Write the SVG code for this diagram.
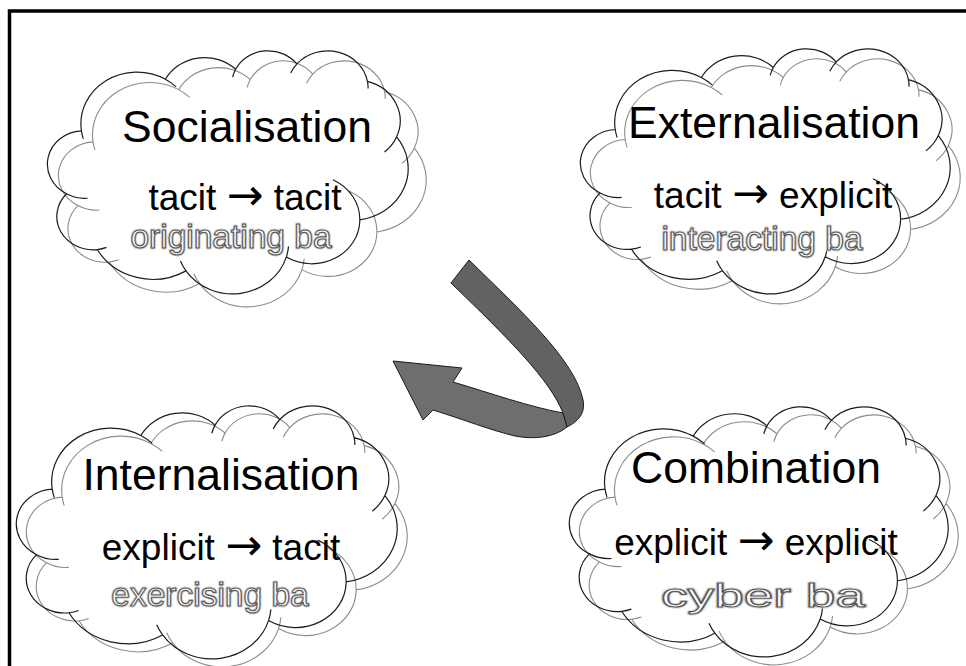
<svg xmlns="http://www.w3.org/2000/svg" xmlns:xlink="http://www.w3.org/1999/xlink" width="966" height="666" viewBox="0 0 966 666">
  <style>
    .front { stroke: #1c1c1c; stroke-width: 1.2; }
    .shadow { stroke: #8c8c8c; stroke-width: 1.1; }
    .title { font-family: "Liberation Sans", Arial, sans-serif; font-size: 44.5px; fill: #000; text-anchor: middle; }
    .mode { font-family: "Liberation Sans", Arial, sans-serif; font-size: 37px; fill: #000; text-anchor: middle; }
    .arrow { font-family: "DejaVu Sans", sans-serif; font-size: 44px; }
    .ba { font-family: "Liberation Sans", Arial, sans-serif; font-size: 33.5px; text-anchor: middle; }
    .ba-halo { fill: none; stroke: #d6d6d6; stroke-width: 3; stroke-linejoin: round; }
    .ba-face { fill: #fcfcfc; stroke: #5a5a5a; stroke-width: 1.2; stroke-linejoin: round; }
    .frame { fill: none; stroke: #000; stroke-width: 3.5; }
    .band { stroke: #1a1a1a; stroke-width: 1; stroke-linejoin: round; }
  </style>
  <defs>
    <!-- cloud outline on a 100 x 100 box, plus its inner bump arcs -->
    <path id="cloud" fill="none" vector-effect="non-scaling-stroke" d="M 9.028 33.264 A 15.632 21.273 0 0 1 32.421 12.044 A 12.345 16.822 0 0 1 51.986 7.949 A 10.104 13.762 0 0 1 69.063 5.743 A 11.243 15.266 0 0 1 88.704 12.905 A 12.345 16.836 0 0 1 96.808 35.785 A 15.683 21.343 0 0 1 86.588 69.910 A 13.391 18.211 0 0 1 66.104 85.211 A 15.630 21.331 0 0 1 38.153 90.889 A 17.870 24.405 0 0 1 13.444 82.118 A 10.093 13.699 0 0 1 4.894 59.160 A 10.058 13.762 0 0 1 9.028 33.264 Z
      M 10.758 61.005 A 10.058 13.762 0 0 1 4.894 59.160
      M 16.010 81.234 A 10.093 13.699 0 0 1 13.444 82.118
      M 38.153 90.889 A 15.630 21.331 0 0 1 36.606 86.861
      M 66.722 80.794 A 15.630 21.331 0 0 1 66.104 85.211
      M 79.062 53.393 A 13.391 18.211 0 0 1 86.588 69.910
      M 96.808 35.785 A 12.345 16.836 0 0 1 93.453 41.982
      M 88.704 12.905 A 11.243 15.266 0 0 1 88.881 15.831
      M 67.346 9.471 A 11.243 15.266 0 0 1 69.063 5.743
      M 51.155 11.166 A 10.104 13.762 0 0 1 51.986 7.949
      M 32.421 12.044 A 15.632 21.273 0 0 1 35.425 15.159
      M 9.552 36.546 A 15.632 21.273 0 0 1 9.028 33.264"/>
  </defs>

  <rect x="0" y="0" width="966" height="666" fill="#fff"/>
  <path class="frame" d="M 9.5 670 V 11 H 970"/>

  <g id="socialisation">
    <use href="#cloud" class="shadow" transform="translate(60 60) scale(3.66 2.46)"/>
    <use href="#cloud" class="front" transform="translate(49 50) scale(3.59 2.43)"/>
    <text class="title" x="247" y="142">Socialisation</text>
    <text class="mode" x="245" y="210">tacit <tspan class="arrow">→</tspan> tacit</text>
    <g class="ba">
      <text class="ba-halo" x="231" y="248">originating ba</text>
      <text class="ba-face" x="231" y="248">originating ba</text>
    </g>
  </g>

  <g id="externalisation">
    <use href="#cloud" class="shadow" transform="translate(592 58) scale(3.68 2.45)"/>
    <use href="#cloud" class="front" transform="translate(582 48) scale(3.68 2.45)"/>
    <text class="title" x="774" y="138">Externalisation</text>
    <text class="mode" x="773" y="208">tacit <tspan class="arrow">→</tspan> explicit</text>
    <g class="ba">
      <text class="ba-halo" x="762" y="250">interacting ba</text>
      <text class="ba-face" x="762" y="250">interacting ba</text>
    </g>
  </g>

  <g id="internalisation">
    <use href="#cloud" class="shadow" transform="translate(28 413) scale(3.79 2.53)"/>
    <use href="#cloud" class="front" transform="translate(18 405) scale(3.79 2.53)"/>
    <text class="title" x="221" y="490">Internalisation</text>
    <text class="mode" x="221" y="560">explicit <tspan class="arrow">→</tspan> tacit</text>
    <g class="ba">
      <text class="ba-halo" x="210" y="606">exercising ba</text>
      <text class="ba-face" x="210" y="606">exercising ba</text>
    </g>
  </g>

  <g id="combination">
    <use href="#cloud" class="shadow" transform="translate(581 414) scale(3.77 2.50)"/>
    <use href="#cloud" class="front" transform="translate(571 406) scale(3.77 2.50)"/>
    <text class="title" x="756" y="483">Combination</text>
    <text class="mode" x="756" y="555">explicit <tspan class="arrow">→</tspan> explicit</text>
    <g class="ba" font-size="30">
      <text class="ba-halo" x="763" y="607" textLength="204" lengthAdjust="spacingAndGlyphs">cyber ba</text>
      <text class="ba-face" x="763" y="607" textLength="204" lengthAdjust="spacingAndGlyphs">cyber ba</text>
    </g>
  </g>

  <g id="connectors">
    <!-- upper half of the twisted ribbon -->
    <path class="band" fill="#626262" d="M 469 260 C 520 310 575 360 583 400 C 586 414 577 422 567 427 L 563 413 C 550 380 510 340 451 283 Z"/>
    <!-- lower half with the arrowhead -->
    <path class="band" fill="#6e6e6e" d="M 567 427 C 555 437 535 440 515 436 C 490 430 465 420 433 410 L 423 420 L 393 361 L 462 368 L 453 382 C 490 393 530 407 563 413 Z"/>
  </g>
</svg>
